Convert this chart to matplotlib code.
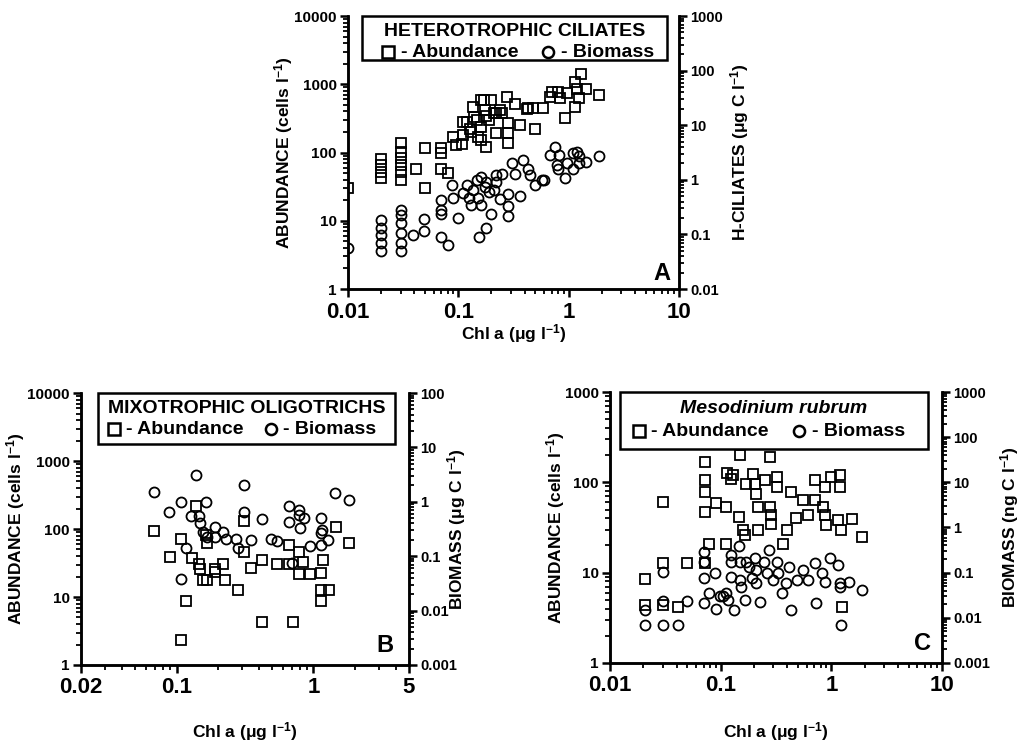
import matplotlib
matplotlib.use("Agg")
import matplotlib.pyplot as plt
from matplotlib.ticker import FixedLocator, LogLocator, NullFormatter, FixedFormatter
from matplotlib.patches import Rectangle

plt.rcParams['font.family'] = ['Liberation Sans', 'DejaVu Sans']
plt.rcParams['font.weight'] = 'bold'
plt.rcParams['mathtext.fontset'] = 'custom'
plt.rcParams['mathtext.rm'] = 'Liberation Sans:bold'
plt.rcParams['mathtext.bf'] = 'Liberation Sans:bold'
plt.rcParams['mathtext.it'] = 'Liberation Sans:bold:italic'

# ---------------- Panel A : heterotrophic ciliates ----------------
a_abund_x = [0.01, 0.02, 0.02, 0.02, 0.02, 0.03, 0.03, 0.03, 0.03, 0.03, 0.03,
             0.041, 0.05, 0.05, 0.07, 0.07, 0.07, 0.08, 0.089, 0.096, 0.108, 0.11,
             0.11, 0.12, 0.128, 0.137, 0.147, 0.15, 0.16, 0.16, 0.16, 0.17, 0.175,
             0.18, 0.19, 0.2, 0.21, 0.22, 0.22, 0.25, 0.275, 0.28, 0.28, 0.28,
             0.33, 0.36, 0.42, 0.43, 0.48, 0.5, 0.59, 0.68, 0.7, 0.8, 0.84, 0.93,
             0.96, 1.15, 1.18, 1.15, 1.23, 1.3, 1.45, 1.9, 0.13, 0.14, 0.18, 0.24]
a_abund_y = [30, 80, 65, 52, 42, 137, 103, 82, 66, 52, 40,
             57, 115, 30, 115, 97, 58, 50, 170, 128, 133, 282,
             180, 282, 225, 466, 300, 170, 585, 152, 239, 590, 420,
             120, 298, 590, 374, 374, 191, 374, 655, 267, 191, 136,
             520, 250, 440, 442, 442, 225, 442, 650, 775, 775, 620, 317,
             735, 1085, 866, 467, 620, 1435, 860, 690, 200, 330, 340, 420]
a_biom_x = [0.01, 0.02, 0.02, 0.02, 0.02, 0.02, 0.03, 0.03, 0.03, 0.03, 0.03, 0.03,
            0.039, 0.049, 0.049, 0.07, 0.07, 0.07, 0.07, 0.08, 0.088, 0.089, 0.1,
            0.11, 0.12, 0.125, 0.13, 0.137, 0.147, 0.15, 0.16, 0.16, 0.175, 0.18,
            0.155, 0.18, 0.19, 0.2, 0.21, 0.22, 0.22, 0.24, 0.25, 0.28, 0.28, 0.28,
            0.31, 0.33, 0.36, 0.39, 0.43, 0.45, 0.5, 0.57, 0.6, 0.75, 0.68, 0.82,
            0.78, 0.81, 0.93, 0.96, 1.1, 1.18, 1.23, 1.1, 1.23, 1.45, 1.9]
a_biom_y = [0.056, 0.185, 0.13, 0.098, 0.069, 0.049, 0.28, 0.23, 0.16, 0.105, 0.069, 0.049,
            0.098, 0.19, 0.117, 0.43, 0.28, 0.24, 0.09, 0.063, 0.8, 0.46, 0.2,
            0.57, 0.8, 0.46, 0.35, 0.65, 1.0, 0.46, 0.35, 1.15, 0.75, 0.93,
            0.09, 0.13, 0.6, 0.24, 0.65, 0.93, 1.23, 0.45, 1.3, 0.55, 0.33, 0.22,
            2.0, 1.3, 0.5, 2.3, 1.6, 1.23, 0.8, 1.0, 1.0, 4.0, 2.8, 2.8,
            1.9, 1.6, 1.07, 2.0, 3.1, 3.3, 2.7, 1.6, 2.0, 2.1, 2.75]

# ---------------- Panel B : mixotrophic oligotrichs ----------------
b_abund_x = [0.068, 0.089, 0.107, 0.107, 0.118, 0.129, 0.139, 0.147, 0.148, 0.155,
             0.163, 0.166, 0.166, 0.19, 0.19, 0.218, 0.225, 0.28, 0.31, 0.31, 0.35,
             0.42, 0.42, 0.54, 0.66, 0.66, 0.71, 0.78, 0.78, 0.84, 0.94, 1.14,
             1.17, 1.14, 1.14, 1.3, 1.46, 1.82]
b_abund_y = [92, 39, 71, 2.3, 8.6, 37, 215, 31, 26, 18,
             82, 62, 18, 26, 23, 31, 18, 12.7, 46, 130, 27,
             35, 4.3, 31, 31, 58, 4.3, 46, 22, 33, 22, 22.4,
             35, 12.7, 8.6, 12.7, 108, 62]
b_biom_x = [0.068, 0.088, 0.107, 0.107, 0.117, 0.127, 0.139, 0.147, 0.148, 0.155,
            0.166, 0.163, 0.19, 0.19, 0.218, 0.229, 0.27, 0.28, 0.31, 0.31, 0.35,
            0.42, 0.49, 0.54, 0.66, 0.66, 0.7, 0.79, 0.79, 0.8, 0.86, 0.94,
            1.14, 1.14, 1.14, 1.16, 1.28, 1.44, 1.82]
b_biom_y = [1.5, 0.64, 1.0, 0.038, 0.14, 0.54, 3.1, 0.54, 0.40, 0.28,
            0.23, 1.0, 0.35, 0.23, 0.28, 0.21, 0.21, 0.14, 2.05, 0.66, 0.2,
            0.48, 0.21, 0.19, 0.84, 0.43, 0.076, 0.71, 0.57, 0.33, 0.5, 0.155,
            0.5, 0.265, 0.16, 0.3, 0.2, 1.44, 1.06]

# ---------------- Panel C : Mesodinium rubrum ----------------
c_abund_x = [0.0206, 0.0206, 0.03, 0.03, 0.03, 0.041, 0.05, 0.072, 0.072, 0.072,
             0.072, 0.072, 0.079, 0.09, 0.111, 0.113, 0.111, 0.125, 0.13, 0.147,
             0.149, 0.16, 0.165, 0.171, 0.197, 0.203, 0.208, 0.218, 0.218, 0.25,
             0.278, 0.278, 0.287, 0.287, 0.32, 0.32, 0.366, 0.394, 0.43, 0.48,
             0.556, 0.62, 0.71, 0.71, 0.84, 0.87, 0.87, 0.9, 1.0, 1.15, 1.2, 1.2,
             1.23, 1.25, 1.53, 1.9]
c_abund_y = [8.5, 4.4, 61, 12.9, 4.4, 4.2, 12.9, 169, 106, 78,
             47, 12.9, 21, 59, 54, 127, 21, 110, 120, 41.6,
             200, 30, 26, 97, 125, 97, 75, 54, 30, 106,
             191, 54, 43, 35, 115, 89, 21, 30, 78, 40,
             63, 43, 106, 63, 54, 43, 89, 34, 115, 38, 120, 89,
             30, 4.2, 39, 25]
c_biom_x = [0.0206, 0.0206, 0.03, 0.03, 0.03, 0.041, 0.05, 0.07, 0.071, 0.071, 0.071,
            0.078, 0.089, 0.09, 0.098, 0.106, 0.111, 0.117, 0.125, 0.125, 0.125,
            0.131, 0.147, 0.149, 0.149, 0.154, 0.165, 0.171, 0.18, 0.19, 0.203,
            0.208, 0.21, 0.227, 0.246, 0.26, 0.276, 0.3, 0.32, 0.33, 0.36, 0.39,
            0.415, 0.43, 0.49, 0.55, 0.62, 0.71, 0.73, 0.83, 0.87, 0.97, 1.15,
            1.2, 1.21, 1.23, 1.45, 1.88]
c_biom_y = [0.015, 0.007, 0.106, 0.023, 0.007, 0.007, 0.023, 0.021, 0.29, 0.175, 0.075,
            0.036, 0.097, 0.016, 0.03, 0.03, 0.036, 0.025, 0.25, 0.175, 0.082,
            0.015, 0.38, 0.175, 0.069, 0.049, 0.025, 0.175, 0.136, 0.075, 0.21,
            0.115, 0.058, 0.022, 0.175, 0.097, 0.32, 0.069, 0.175, 0.097, 0.035, 0.058,
            0.136, 0.015, 0.069, 0.115, 0.069, 0.162, 0.021, 0.097, 0.063, 0.21, 0.146,
            0.058, 0.049, 0.007, 0.063, 0.042]

fig = plt.figure(figsize=(10.24, 7.43), dpi=100)

MS = 6.8
MEW = 1.3
SPW = 1.8


def style_axis(ax, twin, xlim, xmaj, xlab, ylim, ymaj, ylab, tylim, tymaj, tylab,
               ylabel, tylabel, title, title_style, letter, box, leg, letter_pos,
               ylab_x, tylab_x, xlab_y):
    ax.set_xscale('log')
    ax.set_yscale('log')
    twin.set_yscale('log')
    ax.set_xlim(*xlim)
    ax.set_ylim(*ylim)
    twin.set_ylim(*tylim)
    ax.xaxis.set_major_locator(FixedLocator(xmaj))
    ax.xaxis.set_major_formatter(FixedFormatter(xlab))
    ax.xaxis.set_minor_locator(LogLocator(base=10, subs=range(2, 10), numticks=20))
    ax.xaxis.set_minor_formatter(NullFormatter())
    ax.yaxis.set_major_locator(FixedLocator(ymaj))
    ax.yaxis.set_major_formatter(FixedFormatter(ylab))
    ax.yaxis.set_minor_locator(LogLocator(base=10, subs=range(2, 10), numticks=20))
    ax.yaxis.set_minor_formatter(NullFormatter())
    twin.yaxis.set_major_locator(FixedLocator(tymaj))
    twin.yaxis.set_major_formatter(FixedFormatter(tylab))
    twin.yaxis.set_minor_locator(LogLocator(base=10, subs=range(2, 10), numticks=20))
    twin.yaxis.set_minor_formatter(NullFormatter())
    for a in (ax, twin):
        a.spines['top'].set_visible(False)
        for s in a.spines.values():
            s.set_linewidth(SPW)
        a.tick_params(which='major', direction='out', length=6, width=1.8)
        a.tick_params(which='minor', direction='out', length=3.5, width=1.3)
    ax.tick_params(axis='x', which='major', labelsize=16, pad=3)
    ax.tick_params(axis='y', which='major', labelsize=11, pad=2)
    twin.tick_params(axis='y', which='major', labelsize=10.5, pad=2)
    ax.set_xlabel('Chl a (μg l$^{-1}$)', fontsize=12.5, fontweight='bold')
    ax.xaxis.set_label_coords(0.5, xlab_y)
    ax.set_ylabel(ylabel, fontsize=12.5, fontweight='bold')
    ax.yaxis.set_label_coords(ylab_x, 0.5)
    twin.set_ylabel(tylabel, fontsize=12.5, fontweight='bold')
    twin.yaxis.set_label_coords(tylab_x, 0.5)
    x0, x1, y0 = box
    ax.add_patch(Rectangle((x0, y0), x1 - x0, 1.0 - y0, transform=ax.transAxes,
                           fill=True, facecolor='white', edgecolor='black',
                           lw=SPW, zorder=5, clip_on=False))
    t_y, l_y, sq_x, ab_x, ci_x, bi_x = leg
    ax.text((x0 + x1) / 2, t_y, title, transform=ax.transAxes, ha='center',
            va='center', fontsize=14, fontweight='bold', style=title_style, zorder=6)
    ax.plot([sq_x], [l_y], 's', ms=8, mfc='none', mec='black', mew=1.8,
            transform=ax.transAxes, clip_on=False, zorder=6)
    ax.plot([ci_x], [l_y], 'o', ms=8, mfc='none', mec='black', mew=1.8,
            transform=ax.transAxes, clip_on=False, zorder=6)
    ax.text(ab_x, l_y, '- Abundance', transform=ax.transAxes, ha='left',
            va='center', fontsize=14, fontweight='bold', zorder=6)
    ax.text(bi_x, l_y, '- Biomass', transform=ax.transAxes, ha='left',
            va='center', fontsize=14, fontweight='bold', zorder=6)
    ax.text(letter_pos[0], letter_pos[1], letter, transform=ax.transAxes, ha='center',
            va='bottom', fontsize=17, fontweight='bold', zorder=6)


# Panel A
axA = fig.add_axes([0.3398, 0.611, 0.3232, 0.3674])
twA = axA.twinx()
axA.plot(a_abund_x, a_abund_y, 's', ms=MS, mfc='none', mec='black', mew=MEW)
twA.plot(a_biom_x, a_biom_y, 'o', ms=MS + 0.4, mfc='none', mec='black', mew=MEW)
style_axis(axA, twA, (0.01, 10), [0.01, 0.1, 1, 10], ['0.01', '0.1', '1', '10'],
           (1, 10000), [1, 10, 100, 1000, 10000], ['1', '10', '100', '1000', '10000'],
           (0.01, 1000), [0.01, 0.1, 1, 10, 100, 1000], ['0.01', '0.1', '1', '10', '100', '1000'],
           'ABUNDANCE (cells l$^{-1}$)', 'H-CILIATES (μg C l$^{-1}$)',
           'HETEROTROPHIC CILIATES', 'normal', 'A', (0.042, 0.963, 0.838),
           (0.945, 0.868, 0.12, 0.16, 0.603, 0.643), (0.95, 0.015),
           -0.16, 1.148, -0.12)

# Panel B
axB = fig.add_axes([0.0791, 0.105, 0.3203, 0.366])
twB = axB.twinx()
axB.plot(b_abund_x, b_abund_y, 's', ms=MS, mfc='none', mec='black', mew=MEW)
twB.plot(b_biom_x, b_biom_y, 'o', ms=MS + 0.4, mfc='none', mec='black', mew=MEW)
style_axis(axB, twB, (0.02, 5), [0.02, 0.1, 1, 5], ['0.02', '0.1', '1', '5'],
           (1, 10000), [1, 10, 100, 1000, 10000], ['1', '10', '100', '1000', '10000'],
           (0.001, 100), [0.001, 0.01, 0.1, 1, 10, 100], ['0.001', '0.01', '0.1', '1', '10', '100'],
           'ABUNDANCE (cells l$^{-1}$)', 'BIOMASS (μg C l$^{-1}$)',
           'MIXOTROPHIC OLIGOTRICHS', 'normal', 'B', (0.053, 0.957, 0.813),
           (0.945, 0.867, 0.1, 0.137, 0.578, 0.617), (0.927, 0.03),
           -0.165, 1.11, -0.202)

# Panel C
axC = fig.add_axes([0.5957, 0.1077, 0.3242, 0.3647])
twC = axC.twinx()
axC.plot(c_abund_x, c_abund_y, 's', ms=MS, mfc='none', mec='black', mew=MEW)
twC.plot(c_biom_x, c_biom_y, 'o', ms=MS + 0.4, mfc='none', mec='black', mew=MEW)
style_axis(axC, twC, (0.01, 10), [0.01, 0.1, 1, 10], ['0.01', '0.1', '1', '10'],
           (1, 1000), [1, 10, 100, 1000], ['1', '10', '100', '1000'],
           (0.001, 1000), [0.001, 0.01, 0.1, 1, 10, 100, 1000],
           ['0.001', '0.01', '0.1', '1', '10', '100', '1000'],
           'ABUNDANCE (cells l$^{-1}$)', 'BIOMASS (ng C l$^{-1}$)',
           'Mesodinium rubrum', 'italic', 'C', (0.03, 0.958, 0.79),
           (0.939, 0.855, 0.087, 0.125, 0.569, 0.607), (0.94, 0.03),
           -0.13, 1.17, -0.21)

fig.savefig('out.png', dpi=100)
